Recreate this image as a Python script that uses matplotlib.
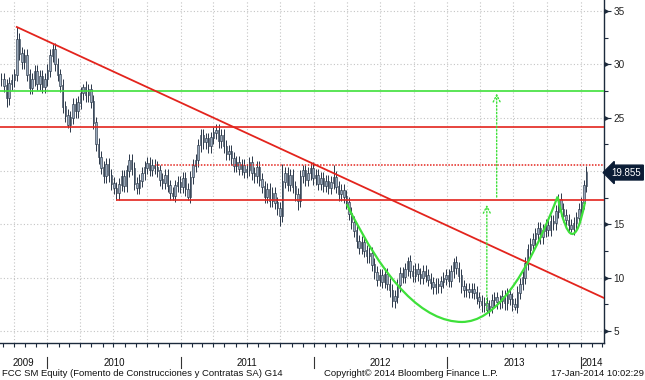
import matplotlib
matplotlib.use("Agg")
import matplotlib.pyplot as plt
import matplotlib.dates as mdates
from matplotlib.path import Path
from matplotlib.patches import PathPatch
from matplotlib.transforms import blended_transform_factory
import pandas as pd

# weekly closes, FCC SM Equity, Aug 2009 .. 17 Jan 2014
closes = [
    28.6, 28.0, 26.8, 28.2, 28.5, 29.0, 32.3, 31.0, 30.2, 30.8,
    29.0, 27.8, 28.6, 29.3, 28.2, 28.9, 27.9, 28.6, 29.4, 30.8,
    31.4, 30.0, 29.0, 28.0, 26.0, 25.2, 24.3, 25.0, 26.2, 25.6,
    26.4, 27.3, 27.8, 27.1, 27.6, 26.5, 24.5, 22.5, 21.3, 20.3,
    19.5, 20.6, 19.6, 18.8, 18.4, 17.9, 18.7, 19.5, 18.6, 20.0,
    21.0, 20.2, 18.8, 18.4, 19.1, 19.8, 20.3, 20.7, 20.1, 20.5,
    20.3, 20.0, 19.2, 18.9, 19.6, 18.6, 17.9, 17.7, 18.6, 18.9,
    18.5, 19.3, 18.3, 17.6, 19.4, 20.5, 21.0, 22.4, 23.3, 22.7,
    23.0, 22.3, 23.1, 23.6, 23.8, 22.8, 23.3, 22.3, 21.6, 21.8,
    21.2, 20.5, 20.8, 20.2, 20.5, 19.9, 20.1, 20.8, 19.8, 19.5,
    20.3, 19.2, 18.5, 17.6, 18.3, 17.2, 17.9, 17.0, 16.5, 15.8,
    19.0, 19.8, 18.7, 19.6, 18.5, 17.8, 17.2, 19.5, 20.0, 19.2,
    19.8, 20.2, 19.3, 19.6, 18.8, 19.3, 18.6, 19.0, 18.4, 18.9,
    19.4, 18.5, 17.8, 18.2, 17.6, 17.0, 16.0, 15.2, 14.4, 13.4,
    12.8, 13.3, 12.5, 12.0, 12.3, 11.2, 10.5, 9.8, 10.2, 9.6,
    10.3, 9.4, 8.8, 7.8, 8.2, 9.3, 10.4, 10.1, 10.8, 11.5,
    10.6, 10.2, 10.8, 10.3, 10.0, 10.6, 10.2, 9.8, 9.5, 9.1,
    9.4, 9.2, 9.6, 9.9, 10.2, 9.7, 10.6, 11.4, 10.9, 10.2,
    9.2, 8.8, 8.9, 8.7, 8.9, 8.6, 8.1, 7.8, 7.4, 7.6,
    7.0, 7.3, 7.9, 8.1, 7.7, 7.8, 8.2, 7.6, 8.4, 8.0,
    7.5, 7.3, 8.6, 9.4, 10.0, 11.3, 12.6, 13.1, 13.6, 14.1,
    14.6, 13.8, 14.4, 14.9, 14.5, 15.3, 15.1, 16.2, 17.3, 16.4,
    15.8, 15.4, 14.9, 14.6, 15.1, 15.6, 16.4, 17.0, 18.6, 19.855,
]
# notable wick extremes (week index -> price)
high_marks = {6: 33.5, 20: 31.9, 32: 28.2, 50: 21.6, 83: 24.1, 97: 21.3,
              110: 20.7, 130: 20.6, 159: 11.9, 177: 11.8, 218: 17.8}
low_marks = {2: 26.0, 26: 24.0, 45: 17.3, 67: 17.3, 73: 17.3, 109: 14.8,
             116: 16.3, 153: 7.3, 190: 6.8, 201: 7.0, 223: 14.3}

last_price = 19.855
years = [2009, 2010, 2011, 2012, 2013, 2014]

# drawn annotations (date, price)
trend_pts = [("2009-10-09", 33.5), ("2014-03-06", 8.1)]
support_level = 17.3
support_start = "2010-07-09"
resist_level = 24.16
target_level = 27.53
dotted_level = 20.57
dotted_start = "2010-10-23"
cup_pts = [("2012-03-31", 16.9), ("2013-02-10", 5.85), ("2013-10-30", 17.6)]
handle_pts = [("2013-10-30", 17.6), ("2013-12-09", 10.85), ("2014-01-13", 17.1)]
arrow_a = ("2013-04-19", 6.7, 17.1)
arrow_b = ("2013-05-16", 17.3, 27.53)

RED = "#e3241d"
GREEN = "#3ee03a"
DARK = "#1c2a3c"
BODY = "#9aa9bb"

dates = pd.date_range(end="2014-01-17", periods=len(closes), freq="W-FRI")
opens = [closes[0]] + closes[:-1]
tops = [max(o, c) for o, c in zip(opens, closes)]
bots = [min(o, c) for o, c in zip(opens, closes)]
highs = [high_marks.get(i, t + 0.6) for i, t in enumerate(tops)]
lows = [low_marks.get(i, b - 0.6) for i, b in enumerate(bots)]

fig = plt.figure(figsize=(6.45, 3.80), dpi=100)
ax = fig.add_axes([0.0, 0.0974, 0.9364, 0.9026])

x0 = mdates.datestr2num("2009-08-24")
x1 = mdates.datestr2num("2014-03-06")
ax.set_xlim(x0, x1)
ax.set_ylim(3.88, 36.03)

# grid
ax.xaxis.set_major_locator(mdates.MonthLocator(bymonth=[1, 4, 7, 10]))
ax.xaxis.set_minor_locator(mdates.MonthLocator())
ax.xaxis.set_major_formatter(plt.NullFormatter())
ax.yaxis.set_major_locator(plt.MultipleLocator(5))
ax.yaxis.set_minor_locator(plt.MultipleLocator(2.5))
# the 20 label sits under the last-price tag
ax.yaxis.set_major_formatter(plt.FuncFormatter(
    lambda v, _: "" if abs(v - 20) < 0.01 else f"{v:g}"))
ax.grid(True, which="major", color="#c4c4c4", linestyle=(0, (1, 2)), lw=0.8)
ax.set_axisbelow(True)

# candles
ax.vlines(dates, lows, highs, color=DARK, lw=0.65, zorder=2)
ax.bar(dates, [t - b + 0.05 for t, b in zip(tops, bots)], bottom=bots,
       width=4.0, color=BODY, edgecolor=DARK, lw=0.4, zorder=3)

# horizontal levels
ax.axhline(target_level, color=GREEN, lw=1.2, zorder=4)
ax.axhline(resist_level, color=RED, lw=1.2, zorder=4)
ax.hlines(dotted_level, mdates.datestr2num(dotted_start), x1, color=RED,
          lw=1.1, linestyle=(0, (1, 1)), zorder=4)
ax.hlines(support_level, mdates.datestr2num(support_start), x1, color=RED,
          lw=1.2, zorder=4)

# trendline
ax.plot([mdates.datestr2num(d) for d, _ in trend_pts], [v for _, v in trend_pts],
        color=RED, lw=1.3, zorder=5)

# cup and handle (quadratic curves)
cx = [mdates.datestr2num(d) for d, _ in cup_pts]
cy = [v for _, v in cup_pts]
verts = [(cx[0], cy[0]), ((cx[0] + cx[1]) / 2, cy[1]), (cx[1], cy[1]),
         ((cx[1] + cx[2]) / 2, cy[1]), (cx[2], cy[2])]
codes = [Path.MOVETO, Path.CURVE3, Path.CURVE3, Path.CURVE3, Path.CURVE3]
ax.add_patch(PathPatch(Path(verts, codes), fill=False, ec=GREEN, lw=1.6, zorder=6))
hv = [(mdates.datestr2num(d), v) for d, v in handle_pts]
ax.add_patch(PathPatch(Path(hv, [Path.MOVETO, Path.CURVE3, Path.CURVE3]),
                       fill=False, ec=GREEN, lw=1.6, zorder=6))

# target arrows
for d, ylo, yhi in (arrow_a, arrow_b):
    xd = mdates.datestr2num(d)
    ax.annotate("", xy=(xd, yhi), xytext=(xd, ylo),
                arrowprops=dict(arrowstyle="->,head_length=0.5,head_width=0.25",
                                color=GREEN, lw=1.0, linestyle=(0, (1, 1.5))),
                zorder=6)

# axes styling
for s in ("top", "left"):
    ax.spines[s].set_visible(False)
for s in ("right", "bottom"):
    ax.spines[s].set_color(DARK)
    ax.spines[s].set_linewidth(1.0)
ax.yaxis.tick_right()
ax.tick_params(axis="y", which="major", length=5, width=0.8, color=DARK,
               labelsize=7.2, labelcolor="#222222", pad=2)
ax.tick_params(axis="y", which="minor", length=3, width=0.8, color=DARK)
ax.tick_params(axis="x", which="both", length=3, width=0.8, color=DARK)
for lab in ax.get_yticklabels():
    lab.set_fontfamily("Liberation Sans")

# tick pointers on the right axis
tr_y = blended_transform_factory(ax.transAxes, ax.transData)
ax.plot([1.004] * 6, [5, 10, 15, 25, 30, 35], ls="none", marker=">",
        ms=2.5, color=DARK, transform=tr_y, clip_on=False)

# year labels and separators
tr_x = blended_transform_factory(ax.transData, ax.transAxes)
for yr in years:
    ys = mdates.datestr2num(f"{yr}-01-01")
    ye = mdates.datestr2num(f"{yr + 1}-01-01")
    a, b = max(ys, x0), min(ye, x1)
    ax.text((a + b) / 2, -0.058, str(yr), transform=tr_x, ha="center",
            va="center", fontsize=7, family="Liberation Sans", color="#111111")
    if ys > x0:
        ax.plot([ys, ys], [-0.04, -0.074], color="#333333", lw=0.8,
                transform=tr_x, clip_on=False)

# last price tag
ax.annotate(f"{last_price:.3f}", xy=(1.012, last_price), xycoords=tr_y,
            ha="left", va="center", fontsize=7, family="Liberation Sans",
            color="white",
            bbox=dict(boxstyle="larrow,pad=0.25", fc="#0b1d36", ec="#0b1d36"))

# footer
fig.text(0.003, 0.018, "FCC SM Equity (Fomento de Construcciones y Contratas SA) G14",
         fontsize=6.8, family="Liberation Sans", color="#111111", va="center")
fig.text(0.503, 0.018, "Copyright\u00a9 2014 Bloomberg Finance L.P.",
         fontsize=6.8, family="Liberation Sans", color="#111111", va="center")
fig.text(0.998, 0.018, "17-Jan-2014 10:02:29", fontsize=6.8,
         family="Liberation Sans", color="#111111", va="center", ha="right")

fig.savefig("out.png", dpi=100)
